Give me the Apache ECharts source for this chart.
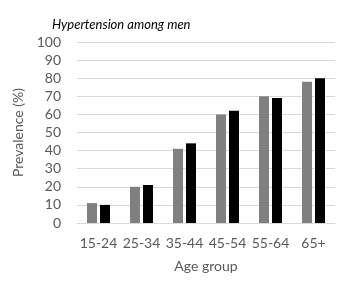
<!DOCTYPE html>
<html><head><meta charset="utf-8">
<script src="https://cdn.jsdelivr.net/npm/echarts@6/dist/echarts.min.js"></script>
<style>html,body{margin:0;padding:0;background:#fff}#c{width:348px;height:290px}</style>
</head><body><div id="c"></div>
<script>
const categories = ['15-24','25-34','35-44','45-54','55-64','65+'];
const seriesGray = [11, 20, 41, 60, 70, 78];
const seriesBlack = [10, 21, 44, 62, 69, 80];
const yTicks = [0,10,20,30,40,50,60,70,80,90,100];

const chart = echarts.init(document.getElementById('c'), null, {renderer:'canvas'});
const font = 'Lato, "Open Sans", sans-serif';
chart.setOption({
  animation: false,
  title: {
    text: 'Hypertension among men',
    left: 47, top: 13,
    textStyle: {fontFamily: font, fontStyle: 'italic', fontWeight: 'normal', fontSize: 13, color: '#000'}
  },
  grid: {left: 77, right: 13, top: 42, bottom: 67},
  xAxis: {
    type: 'category', data: categories,
    name: 'Age group', nameLocation: 'middle', nameGap: 36,
    nameTextStyle: {fontFamily: font, fontSize: 14, color: '#595959'},
    axisLine: {lineStyle: {color: '#d9d9d9'}},
    axisTick: {show: false},
    axisLabel: {interval: 0, fontFamily: font, fontSize: 14, color: '#595959', margin: 13}
  },
  yAxis: {
    type: 'value', min: yTicks[0], max: yTicks[yTicks.length-1], interval: 10,
    name: 'Prevalence (%)', nameLocation: 'middle', nameGap: 39,
    nameTextStyle: {fontFamily: font, fontSize: 14, color: '#595959'},
    axisLine: {show: false}, axisTick: {show: false},
    axisLabel: {fontFamily: font, fontSize: 14, color: '#595959', margin: 16},
    splitLine: {lineStyle: {color: '#d9d9d9'}}
  },
  series: [
    {type: 'bar', data: seriesGray, barWidth: 10, barGap: '30%', itemStyle: {color: '#808080'}},
    {type: 'bar', data: seriesBlack, barWidth: 10, barGap: '30%', itemStyle: {color: '#000000'}}
  ]
});
</script></body></html>
